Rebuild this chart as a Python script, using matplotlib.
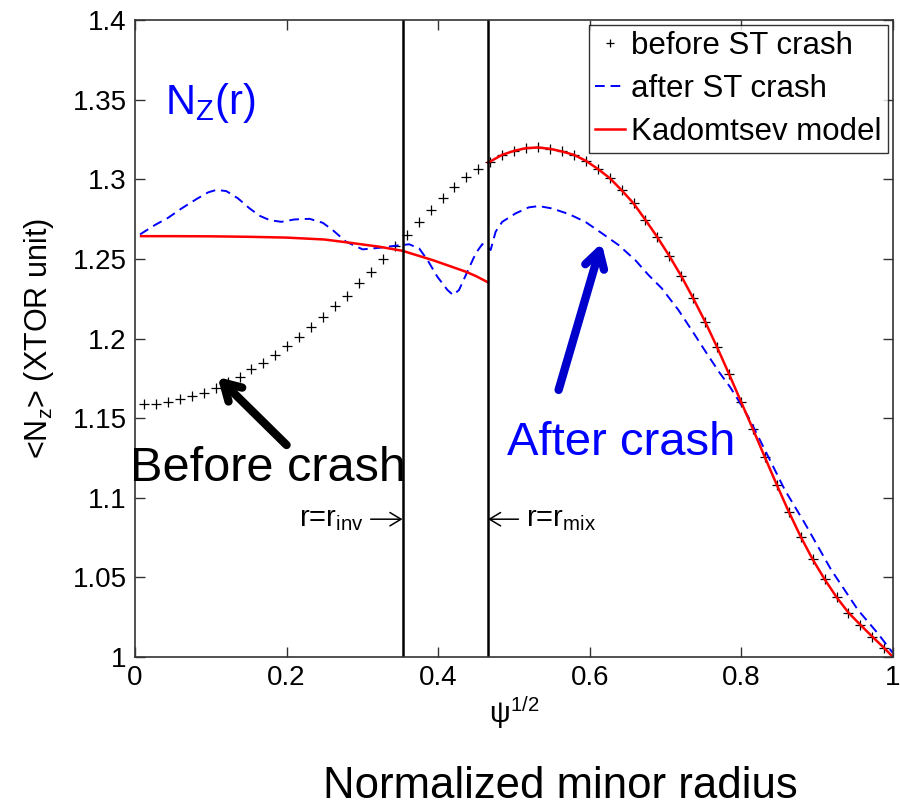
import matplotlib
matplotlib.use("Agg")
import matplotlib.pyplot as plt

plt.rcParams['font.family'] = ['Liberation Sans', 'DejaVu Sans']
plt.rcParams['mathtext.fontset'] = 'custom'
plt.rcParams['mathtext.rm'] = 'Liberation Sans'
plt.rcParams['mathtext.it'] = 'Liberation Sans:italic'

# ---- data ----
x_before = [0.0118, 0.0276, 0.0433, 0.0591, 0.0748, 0.0906, 0.1063, 0.1221, 0.1379, 0.1536,
            0.1694, 0.1852, 0.2009, 0.2167, 0.2324, 0.2482, 0.2639, 0.2797, 0.2954, 0.3112,
            0.3270, 0.3427, 0.3585, 0.3742, 0.3900, 0.4058, 0.4215, 0.4373, 0.4530, 0.4688,
            0.4845, 0.5003, 0.5161, 0.5318, 0.5476, 0.5633, 0.5791, 0.5948, 0.6106, 0.6264,
            0.6421, 0.6579, 0.6736, 0.6894, 0.7052, 0.7209, 0.7367, 0.7524, 0.7682, 0.7839,
            0.7997, 0.8155, 0.8312, 0.8470, 0.8627, 0.8785, 0.8942, 0.9100, 0.9258, 0.9415,
            0.9573, 0.9730, 0.9888]
y_before = [1.1587, 1.1590, 1.1600, 1.1618, 1.1637, 1.1656, 1.1690, 1.1725, 1.1760, 1.1806,
            1.1848, 1.1894, 1.1953, 1.2010, 1.2070, 1.2133, 1.2202, 1.2269, 1.2347, 1.2420,
            1.2497, 1.2582, 1.2651, 1.2735, 1.2810, 1.2882, 1.2949, 1.3012, 1.3062, 1.3112,
            1.3154, 1.3179, 1.3196, 1.3200, 1.3192, 1.3175, 1.3154, 1.3117, 1.3066, 1.3008,
            1.2932, 1.2849, 1.2745, 1.2636, 1.2518, 1.2392, 1.2252, 1.2105, 1.1945, 1.1777,
            1.1603, 1.1430, 1.1254, 1.1080, 1.0912, 1.0755, 1.0613, 1.0488, 1.0375, 1.0278,
            1.0201, 1.0127, 1.0055]

x_after = [0.0066, 0.0263, 0.0439, 0.0614, 0.0811, 0.0965, 0.1075, 0.1206, 0.1360, 0.1513,
           0.1645, 0.1776, 0.1930, 0.2105, 0.2303, 0.2478, 0.2610, 0.2785, 0.3004, 0.3224,
           0.3440, 0.3618, 0.3750, 0.3860, 0.3990, 0.4123, 0.4197, 0.4276, 0.4386, 0.4496,
           0.4583, 0.4649, 0.4693, 0.4759, 0.4846, 0.5022, 0.5197, 0.5329, 0.5504, 0.5724,
           0.5943, 0.6162, 0.6382, 0.6601, 0.6776, 0.6952, 0.7171, 0.7346, 0.7544, 0.7720,
           0.7850, 0.7960, 0.8092, 0.8268, 0.8575, 0.8838, 0.9188, 0.9540, 0.9800, 1.0]
y_after = [1.2654, 1.2713, 1.2759, 1.2817, 1.2876, 1.2918, 1.2934, 1.2926, 1.2880, 1.2817,
           1.2771, 1.2744, 1.2733, 1.2748, 1.2752, 1.2727, 1.2681, 1.2608, 1.2560, 1.2570,
           1.2583, 1.2592, 1.2566, 1.2493, 1.2388, 1.2305, 1.2273, 1.2305, 1.2420, 1.2535,
           1.2593, 1.2577, 1.2556, 1.2671, 1.2733, 1.2786, 1.2824, 1.2832, 1.2817, 1.2782,
           1.2733, 1.2661, 1.2587, 1.2493, 1.2399, 1.2315, 1.2179, 1.2053, 1.1907, 1.1781,
           1.1697, 1.1614, 1.1509, 1.1342, 1.1049, 1.0840, 1.0546, 1.0295, 1.0149, 1.0025]

x_kad_in = [0.008, 0.05, 0.10, 0.15, 0.20, 0.25, 0.283, 0.30, 0.322, 0.353, 0.3925, 0.41,
            0.4364, 0.45, 0.4658]
y_kad_in = [1.2643, 1.2643, 1.2642, 1.2639, 1.2634, 1.2622, 1.2602, 1.2591, 1.2577, 1.2551,
            1.2493, 1.2464, 1.2420, 1.2392, 1.2353]
x_kad_out = [0.4658] + x_before[29:] + [1.0]
y_kad_out = [1.3105] + y_before[29:] + [1.0]

r_inv = 0.353
r_mix = 0.4658

x_ticks = [0, 0.2, 0.4, 0.6, 0.8, 1]
x_ticklabels = ['0', '0.2', '0.4', '0.6', '0.8', '1']
y_ticks = [1.0, 1.05, 1.1, 1.15, 1.2, 1.25, 1.3, 1.35, 1.4]
y_ticklabels = ['1', '1.05', '1.1', '1.15', '1.2', '1.25', '1.3', '1.35', '1.4']

# ---- figure ----
fig = plt.figure(figsize=(9, 8.06), dpi=100)
ax = fig.add_axes([0.15, 0.185, 0.842, 0.79])

ax.plot(x_before, y_before, linestyle='none', marker='+', color='black',
        markersize=7, markeredgewidth=0.9, label='before ST crash')
ax.plot(x_after, y_after, linestyle=(0, (5, 3)), color='#0000FF', lw=1.4,
        label='after ST crash')
ax.plot(x_kad_in, y_kad_in, color='#FF0000', lw=1.8, label='Kadomtsev model')
ax.plot(x_kad_out, y_kad_out, color='#FF0000', lw=1.8)

ax.axvline(r_inv, color='black', lw=1.8)
ax.axvline(r_mix, color='black', lw=1.8)

ax.set_xlim(0, 1)
ax.set_ylim(1.0, 1.4)
ax.set_xticks(x_ticks)
ax.set_xticklabels(x_ticklabels)
ax.set_yticks(y_ticks)
ax.set_yticklabels(y_ticklabels)
ax.tick_params(direction='in', top=True, right=True, labelsize=20, length=7,
               width=1, colors='#333333', labelcolor='black', pad=6)
for s in ax.spines.values():
    s.set_color('#333333')
    s.set_linewidth(1.2)

ax.set_xlabel(r'ψ$^{\mathregular{1/2}}$', fontsize=21, labelpad=2)
ax.set_ylabel(r'<N$_\mathregular{z}$> (XTOR unit)', fontsize=22, labelpad=12)

leg = ax.legend(loc='upper right', fontsize=22.5, frameon=True, fancybox=False,
                edgecolor='black', borderaxespad=0.15, handlelength=0.95,
                handletextpad=0.2, labelspacing=0.41, borderpad=0.2,
                markerscale=0.8)
leg.get_frame().set_linewidth(1.0)

ax.text(0.04, 1.348, r'N$_\mathregular{Z}$(r)', color='#0000FF', fontsize=30,
        va='center', ha='left')
ax.text(-0.007, 1.1105, 'Before crash', color='black', fontsize=35,
        va='baseline', ha='left', clip_on=False)
ax.text(0.491, 1.127, 'After crash', color='#0000FF', fontsize=34,
        va='baseline', ha='left')

ax.annotate('', xy=(0.109, 1.1758), xytext=(0.2, 1.1331),
            arrowprops=dict(arrowstyle='->,head_length=0.6,head_width=0.35',
                            lw=6, color='black', mutation_scale=20,
                            shrinkA=0, shrinkB=0))
ax.annotate('', xy=(0.6158, 1.2600), xytext=(0.559, 1.1677),
            arrowprops=dict(arrowstyle='->,head_length=0.6,head_width=0.35',
                            lw=6, color='#0000CC', mutation_scale=20,
                            shrinkA=0, shrinkB=0))

# r = r_inv / r = r_mix labels with thin arrows
y_lab = 1.0865
ax.text(0.302, y_lab, r'r=r$_\mathregular{inv}$', fontsize=21, ha='right',
        va='center')
ax.annotate('', xy=(r_inv, y_lab), xytext=(0.311, y_lab),
            arrowprops=dict(arrowstyle='->,head_length=0.5,head_width=0.3',
                            lw=1.1, color='black', mutation_scale=16,
                            shrinkA=0, shrinkB=0))
ax.text(0.516, y_lab, r'r=r$_\mathregular{mix}$', fontsize=21, ha='left',
        va='center')
ax.annotate('', xy=(r_mix, y_lab), xytext=(0.506, y_lab),
            arrowprops=dict(arrowstyle='->,head_length=0.5,head_width=0.3',
                            lw=1.1, color='black', mutation_scale=16,
                            shrinkA=0, shrinkB=0))

fig.text(0.623, 0.0099, 'Normalized minor radius', fontsize=31.5, ha='center',
         va='baseline')

fig.savefig('out.png', dpi=100)
